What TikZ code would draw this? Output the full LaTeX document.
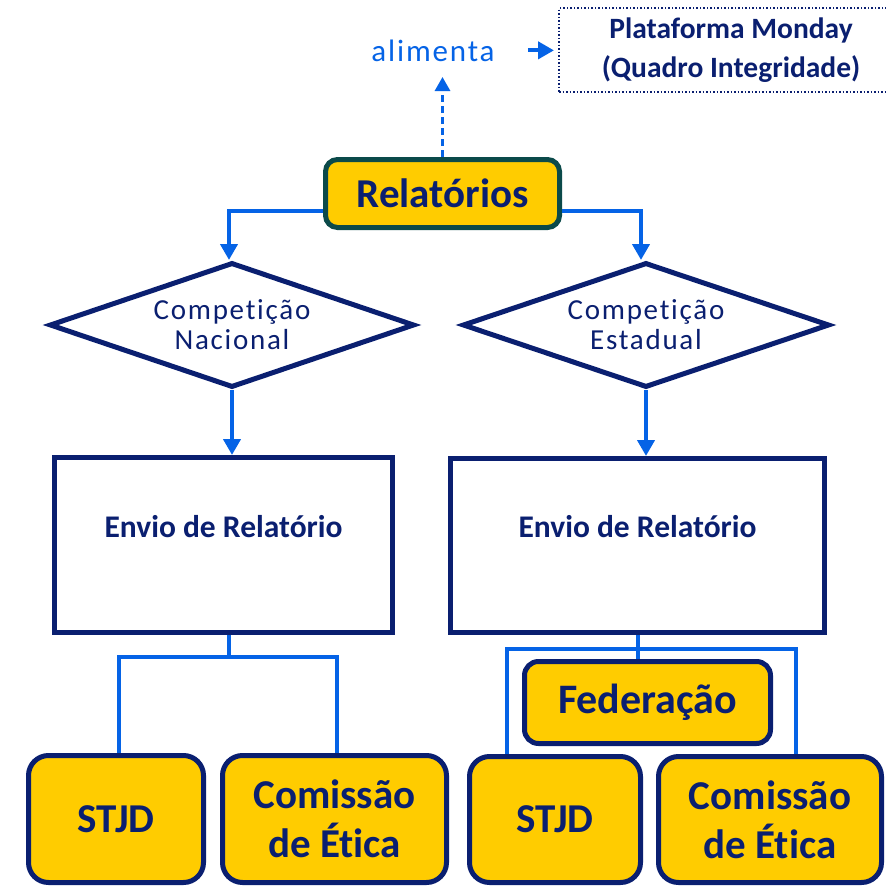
\documentclass[tikz,border=0pt]{standalone}
\usepackage{fontspec}
\setmainfont{Carlito}[Ligatures=NoCommon]
\newfontfamily\spaced[LetterSpace=6, Ligatures=NoCommon]{Carlito}
\usetikzlibrary{shapes.geometric,arrows.meta}
\definecolor{navy}{HTML}{0A1F70}
\definecolor{cblue}{HTML}{0563E6}
\definecolor{gold}{HTML}{FFCC00}
\definecolor{teal}{HTML}{0B4A4A}
\tikzset{
  goldbox/.style={draw=navy, line width=5pt, fill=gold, rounded corners=20pt, text=navy, font=\fontsize{41}{49}\selectfont\bfseries, align=center, inner sep=0pt},
  whitebox/.style={draw=navy, line width=5pt, fill=white, text=navy, font=\fontsize{31.5}{34}\selectfont\bfseries, inner sep=0pt, text height=20pt, text depth=36pt},
  decision/.style={diamond, draw=navy, line width=5pt, fill=white, text=navy, font=\spaced\fontsize{29}{30}\selectfont, align=center, inner sep=0pt, aspect=2.85},
  conn/.style={draw=cblue, line width=4pt},
  connarrow/.style={conn, -{Triangle[length=16pt,width=17pt]}},
  dasharrow/.style={draw=cblue, line width=3pt, dash pattern=on 7pt off 4pt, -{Triangle[length=14pt,width=15pt]}},
}
\begin{document}
\begin{tikzpicture}[x=1pt,y=-1pt]
\useasboundingbox (0,0) rectangle (886,886);

% top
\node[text=cblue, font=\spaced\fontsize{31}{32}\selectfont, inner sep=0pt, anchor=base] (alim) at (433,61) {alimenta};
\node[draw=navy, line width=2pt, dash pattern=on 1.5pt off 2pt, minimum width=344pt, minimum height=84pt, inner sep=0pt, align=center, text=navy, font=\fontsize{29.5}{39}\selectfont\bfseries] (plat) at (731,50) {Plataforma Monday\\(Quadro Integridade)};

\node[draw=teal, line width=5pt, fill=gold, rounded corners=12pt, minimum width=234pt, minimum height=68pt, inner sep=0pt, text=navy, font=\fontsize{41}{42}\selectfont\bfseries] (rel) at (442.5,193.5) {Relatórios};

% decisions
\node[decision, minimum width=365pt, minimum height=125pt] (d1) at (232,325) {Competição\\Nacional};
\node[decision, minimum width=367pt, minimum height=125pt] (d2) at (646,325) {Competição\\Estadual};

% report boxes
\node[whitebox, minimum width=338pt, minimum height=175pt] (b1) at (223.5,545) {Envio de Relatório};
\node[whitebox, minimum width=374pt, minimum height=174pt] (b2) at (637.5,545.5) {Envio de Relatório};

% bottom boxes
\node[goldbox, rounded corners=14pt, minimum width=246pt, minimum height=82pt, font=\fontsize{42}{44}\selectfont\bfseries] (fed) at (647.5,702.5) {Federação};
\node[goldbox, minimum width=175pt, minimum height=127pt] (stjdL) at (116,819) {STJD};
\node[goldbox, minimum width=224pt, minimum height=127pt] (comL) at (334.5,819) {Comissão\\de Ética};
\node[goldbox, minimum width=171pt, minimum height=126pt] (stjdR) at (555,819.5) {STJD};
\node[goldbox, minimum width=223pt, minimum height=126pt] (comR) at (770,819.5) {Comissão\\de Ética};

% connectors
\draw[connarrow] (alim.east) ++(33,0) coordinate (aS) -- ([xshift=-4pt]plat.west |- aS);
\draw[dasharrow] (rel.north) -- ([yshift=-16pt]rel.north |- alim.base);
\draw[connarrow] ([yshift=-17pt]rel.west) -| ([xshift=-3pt]d1.north);
\draw[connarrow] ([yshift=-17pt]rel.east) -| ([xshift=-5pt]d2.north);
\draw[connarrow] (d1.south) -- (d1.south |- b1.north);
\draw[connarrow] (d2.south) -- (d2.south |- b2.north);

\coordinate (busL) at (229,657);
\draw[conn] (b1.south -| busL) -- (busL);
\draw[conn] ([xshift=3pt]stjdL.north) |- (busL) -| ([xshift=2.5pt]comL.north);

\coordinate (busR1) at (507,649);
\coordinate (busR2) at (796,649);
\draw[conn] (busR1 |- stjdR.north) -- (busR1) -- (busR2) -- (busR2 |- comR.north);
\draw[conn] (b2.south) -- (b2.south |- fed.north);
\end{tikzpicture}
\end{document}
